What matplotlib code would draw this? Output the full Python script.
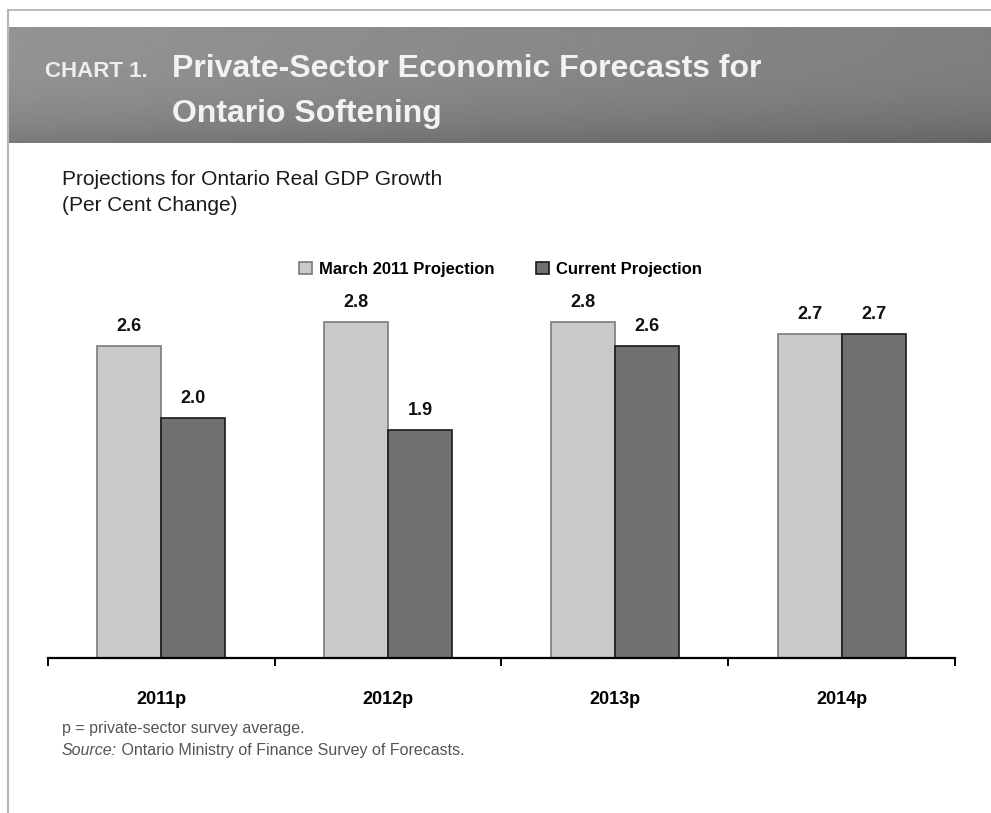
import numpy as np
import matplotlib
matplotlib.use('Agg')
import matplotlib.pyplot as plt
from matplotlib import font_manager

years = ['2011p', '2012p', '2013p', '2014p']
march_2011 = [2.6, 2.8, 2.8, 2.7]
current = [2.0, 1.9, 2.6, 2.7]
series_names = ['March 2011 Projection', 'Current Projection']

names = {f.name for f in font_manager.fontManager.ttflist}
narrow = 'Liberation Sans Narrow' if 'Liberation Sans Narrow' in names else 'Liberation Sans'
plain = 'Liberation Sans'

W, H = 991, 813
fig = plt.figure(figsize=(W / 100, H / 100), dpi=100)

# frame lines + header band (figure pixel coords)
bg = fig.add_axes([0, 0, 1, 1])
bg.set_xlim(0, W)
bg.set_ylim(H, 0)
bg.axis('off')
bg.plot([9, W], [10, 10], color='#b0b0b0', lw=1.2)
bg.plot([8, 8], [10, H], color='#b8b8b8', lw=1.5)
gx = np.linspace(0, 1, 200)
gy = np.linspace(0, 1, 60)
grad = 0.58 - 0.08 * gx[None, :] - 0.10 * gy[:, None] ** 3
bg.imshow(grad, cmap='gray', vmin=0, vmax=1, extent=[9, W, 143, 27],
          aspect='auto', interpolation='bilinear')
bg.text(45, 77, 'CHART 1.', fontsize=16, fontweight='bold', color='#eeeeee',
        family=narrow, va='baseline')
bg.text(172, 77, 'Private-Sector Economic Forecasts for', fontsize=23,
        fontweight='bold', color='#f2f2f2', family=narrow, va='baseline')
bg.text(172, 122, 'Ontario Softening', fontsize=23, fontweight='bold',
        color='#f2f2f2', family=narrow, va='baseline')

bg.text(62, 185, 'Projections for Ontario Real GDP Growth', fontsize=15,
        color='#1a1a1a', family=narrow, va='baseline')
bg.text(62, 211, '(Per Cent Change)', fontsize=15, color='#1a1a1a',
        family=narrow, va='baseline')

bg.text(62, 733, 'p = private-sector survey average.', fontsize=11.5,
        color='#555555', family=narrow, va='baseline')
src = bg.text(62, 755, 'Source:', fontsize=11.5, color='#555555',
              family=narrow, style='italic', va='baseline')
bg.annotate(' Ontario Ministry of Finance Survey of Forecasts.', xy=(1, 0),
            xycoords=src, va='bottom', ha='left', fontsize=11.5,
            color='#555555', family=narrow)

# chart
ax = fig.add_axes([48 / W, 1 - 658 / H, (955 - 48) / W, (658 - 270) / H])
x = np.arange(len(years))
w = 0.282
b1 = ax.bar(x - w / 2, march_2011, w, color='#c9c9c9', edgecolor='#7a7a7a',
            lw=1.2, label=series_names[0])
b2 = ax.bar(x + w / 2, current, w, color='#717171', edgecolor='#1a1a1a',
            lw=1.2, label=series_names[1])
for bars in (b1, b2):
    ax.bar_label(bars, fmt='%.1f', padding=8, fontsize=13, fontweight='bold',
                 family=plain, color='#111111')

ax.set_xlim(-0.5, len(years) - 0.5)
ax.set_ylim(0, (658 - 270) / 120)
for s in ['top', 'left', 'right']:
    ax.spines[s].set_visible(False)
ax.spines['bottom'].set_linewidth(1.6)
ax.set_yticks([])
ax.set_xticks(x)
ax.set_xticklabels(years, fontsize=13, fontweight='bold', family=plain)
ax.tick_params(axis='x', which='major', length=0, pad=24)
ax.set_xticks(np.arange(len(years) + 1) - 0.5, minor=True)
ax.tick_params(axis='x', which='minor', length=6, width=1.4, direction='out')

leg = ax.legend(loc='upper left', bbox_to_anchor=(0.26, 1.06), ncol=2,
                frameon=False, handlelength=0.8, handleheight=0.8,
                handletextpad=0.4, columnspacing=2.5,
                prop={'family': plain, 'weight': 'bold', 'size': 12})

fig.savefig('out.png', dpi=100)
